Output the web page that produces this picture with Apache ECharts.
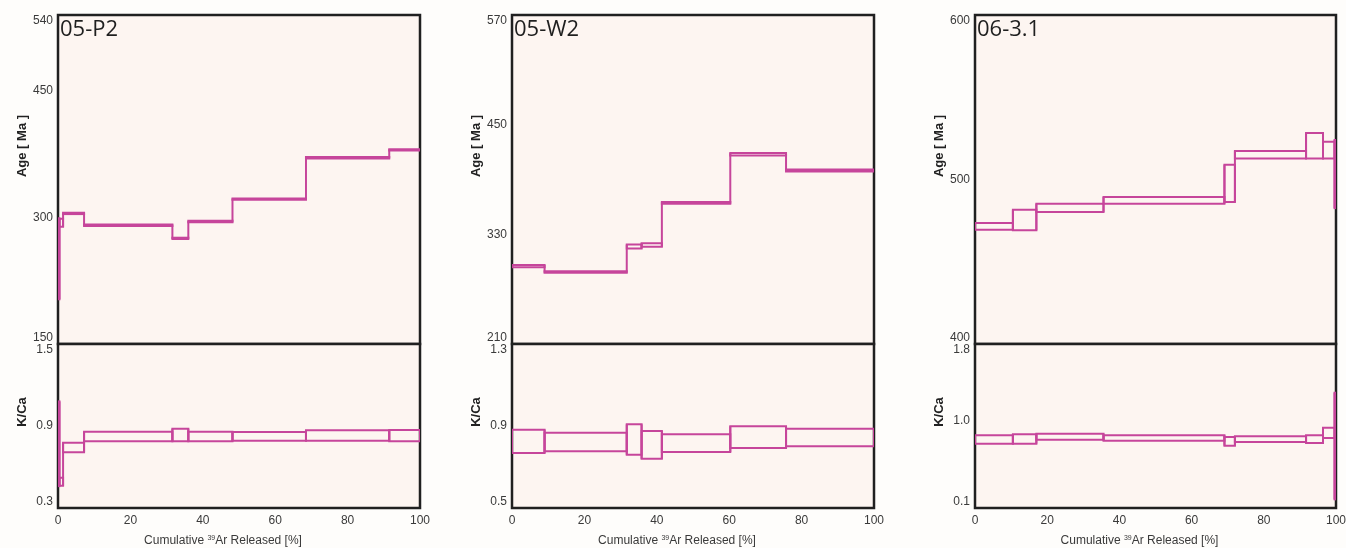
<!DOCTYPE html>
<html>
<head>
<meta charset="utf-8">
<title>Age spectra</title>
<script src="https://cdn.jsdelivr.net/npm/echarts@6/dist/echarts.min.js"></script>
<style>
  html, body { margin: 0; padding: 0; background: #fefdfb; }
  #chart { width: 1346px; height: 548px; }
</style>
</head>
<body>
<div id="chart"></div>
<script>
// sample names
const samples = ['05-P2', '05-W2', '06-3.1']

// cumulative 39Ar released, step boundaries [%]
const steps1 = [0, 0.4, 1.4, 7.2, 31.6, 36.0, 48.2, 68.5, 91.5, 100]
const steps2 = [0, 9.0, 31.7, 35.8, 41.4, 60.3, 75.7, 100]
const steps3 = [0, 10.5, 17.0, 35.6, 69.1, 72.0, 91.7, 96.4, 99.6, 100]

// apparent age [Ma], lower / upper error bounds per step
const ageLo1 = [203, 289, 304, 290, 274.5, 294.3, 321, 370, 379.5]
const ageHi1 = [299, 298.5, 305.6, 291.7, 276, 296, 322.5, 371.7, 381]
const ageLo2 = [294, 288, 314.5, 316.4, 363.5, 416.3, 398.8]
const ageHi2 = [296.5, 289.5, 318.8, 320.2, 365.3, 418.9, 401]
const ageLo3 = [469.5, 469.1, 480.2, 485.3, 486.3, 512.7, 512.7, 512.7, 482.6]
const ageHi3 = [473.5, 481.6, 485.3, 489.4, 509, 517.3, 528.3, 523, 524]

// K/Ca lower / upper bounds per step
const kcaLo1 = [0.46, 0.463, 0.708, 0.788, 0.788, 0.788, 0.792, 0.792, 0.788]
const kcaHi1 = [1.08, 0.522, 0.778, 0.858, 0.88, 0.858, 0.856, 0.869, 0.871]
const kcaLo2 = [0.768, 0.777, 0.76, 0.74, 0.773, 0.793, 0.801]
const kcaHi2 = [0.882, 0.867, 0.908, 0.876, 0.86, 0.899, 0.887]
const kcaLo3 = [0.767, 0.767, 0.808, 0.798, 0.746, 0.784, 0.774, 0.826, 0.19]
const kcaHi3 = [0.854, 0.864, 0.87, 0.854, 0.836, 0.843, 0.854, 0.932, 1.295]

// axis ranges and tick labels
const ageRange = [[150, 540], [210, 570], [400, 600]]
const ageTicks = [[150, 300, 450, 540], [210, 330, 450, 570], [400, 500, 600]]
const kcaRange = [[0.3, 1.5], [0.5, 1.3], [0.1, 1.8]]
const kcaTicks = [[0.3, 0.9, 1.5], [0.5, 0.9, 1.3], [0.1, 1.0, 1.8]]
const xTicks = [0, 20, 40, 60, 80, 100]

const stepSets = [steps1, steps2, steps3]
const ageLo = [ageLo1, ageLo2, ageLo3]
const ageHi = [ageHi1, ageHi2, ageHi3]
const kcaLo = [kcaLo1, kcaLo2, kcaLo3]
const kcaHi = [kcaHi1, kcaHi2, kcaHi3]

const LINE = '#c6459b'
const FRAME = '#202020'
const PLOT_BG = '#fdf5f1'
const TEXT = '#3a3a3a'

// panel placement
const panelLeft = [58, 512, 975]
const panelWidth = [362, 362, 361]
const topY = 15
const midY = 344
const botY = 508

// one item per step: [x0, x1, lo, hi, nextLo, nextHi]
function toBoxes (steps, lo, hi) {
  const out = []
  for (let i = 0; i < lo.length; i++) {
    const last = i === lo.length - 1
    out.push([steps[i], steps[i + 1], lo[i], hi[i],
      last ? lo[i] : lo[i + 1], last ? hi[i] : hi[i + 1]])
  }
  return out
}

function boxItem (params, api) {
  const x0 = api.value(0)
  const x1 = api.value(1)
  const lo = api.value(2)
  const hi = api.value(3)
  const a = api.coord([x0, hi])
  const b = api.coord([x1, lo])
  const c0 = api.coord([x1, Math.min(lo, api.value(4))])
  const c1 = api.coord([x1, Math.max(hi, api.value(5))])
  const st = { fill: 'none', stroke: LINE, lineWidth: 2 }
  return {
    type: 'group',
    children: [
      { type: 'rect', shape: { x: a[0], y: a[1], width: b[0] - a[0], height: b[1] - a[1] }, style: st },
      { type: 'line', shape: { x1: c0[0], y1: c0[1], x2: c1[0], y2: c1[1] }, style: st }
    ]
  }
}

function pick (ticks, digits) {
  return function (v) {
    return ticks.some(t => Math.abs(t - v) < 1e-6) ? v.toFixed(digits) : ''
  }
}

const grid = []
const xAxis = []
const yAxis = []
const series = []
const graphic = []

for (let p = 0; p < 3; p++) {
  const l = panelLeft[p]
  const w = panelWidth[p]
  const common = {
    show: true, backgroundColor: PLOT_BG, borderColor: FRAME, borderWidth: 2.5,
    left: l, width: w, containLabel: false, outerBoundsMode: 'none'
  }
  grid.push(Object.assign({ top: topY, height: midY - topY }, common))
  grid.push(Object.assign({ top: midY, height: botY - midY }, common))

  const gTop = p * 2
  const gBot = p * 2 + 1

  xAxis.push({
    type: 'value', gridIndex: gTop, min: 0, max: 100, interval: 20,
    axisLine: { show: false }, axisTick: { show: false }, splitLine: { show: false },
    axisLabel: { show: false }
  })
  xAxis.push({
    type: 'value', gridIndex: gBot, min: 0, max: 100, interval: 20,
    axisLine: { show: false }, axisTick: { show: false }, splitLine: { show: false },
    axisLabel: {
      color: TEXT, fontSize: 12, fontFamily: 'Liberation Sans', margin: 7,
      formatter: pick(xTicks, 0)
    }
  })

  yAxis.push({
    type: 'value', gridIndex: gTop, min: ageRange[p][0], max: ageRange[p][1],
    interval: p === 2 ? 100 : 30,
    axisLine: { show: false }, axisTick: { show: false }, splitLine: { show: false },
    axisLabel: {
      color: TEXT, fontSize: 12, fontFamily: 'Liberation Sans', margin: 5,
      verticalAlignMaxLabel: 'top', verticalAlignMinLabel: 'bottom',
      formatter: pick(ageTicks[p], 0)
    }
  })
  yAxis.push({
    type: 'value', gridIndex: gBot, min: kcaRange[p][0], max: kcaRange[p][1],
    interval: 0.1,
    axisLine: { show: false }, axisTick: { show: false }, splitLine: { show: false },
    axisLabel: {
      color: TEXT, fontSize: 12, fontFamily: 'Liberation Sans', margin: 5,
      verticalAlignMaxLabel: 'top', verticalAlignMinLabel: 'bottom',
      formatter: pick(kcaTicks[p], 1)
    }
  })

  series.push({
    type: 'custom', xAxisIndex: gTop, yAxisIndex: gTop, clip: true,
    renderItem: boxItem, encode: { x: [0, 1], y: [2, 3] },
    data: toBoxes(stepSets[p], ageLo[p], ageHi[p])
  })
  series.push({
    type: 'custom', xAxisIndex: gBot, yAxisIndex: gBot, clip: true,
    renderItem: boxItem, encode: { x: [0, 1], y: [2, 3] },
    data: toBoxes(stepSets[p], kcaLo[p], kcaHi[p])
  })

  // sample name
  graphic.push({
    type: 'text', left: l + 2, top: topY + 4, z: 10,
    style: { text: samples[p], fill: '#1f1f1f', font: '22px "Open Sans"' }
  })
  // y axis names
  graphic.push({
    type: 'text', x: l - 36, y: 146, rotation: Math.PI / 2, z: 10,
    style: { text: 'Age [ Ma ]', fill: '#222', font: 'bold 13px "Liberation Sans"', align: 'center', verticalAlign: 'middle' }
  })
  graphic.push({
    type: 'text', x: l - 36, y: 412, rotation: Math.PI / 2, z: 10,
    style: { text: 'K/Ca', fill: '#222', font: 'bold 13px "Liberation Sans"', align: 'center', verticalAlign: 'middle' }
  })
  // x axis title
  graphic.push({
    type: 'text', x: l + w / 2 - 16, y: 540, z: 10,
    style: {
      text: '{n|Cumulative }{s|39}{n|Ar Released [%]}',
      align: 'center', verticalAlign: 'middle',
      rich: {
        n: { fontSize: 12, fontFamily: 'Liberation Sans', fill: TEXT, verticalAlign: 'bottom', lineHeight: 14 },
        s: { fontSize: 7, fontFamily: 'Liberation Sans', fill: TEXT, verticalAlign: 'bottom', lineHeight: 14, padding: [0, 0, 5, 0] }
      }
    }
  })
}

const myChart = echarts.init(document.getElementById('chart'))
myChart.setOption({
  backgroundColor: '#fefdfb',
  animation: false,
  grid: grid,
  xAxis: xAxis,
  yAxis: yAxis,
  series: series,
  graphic: graphic
})
</script>
</body>
</html>
